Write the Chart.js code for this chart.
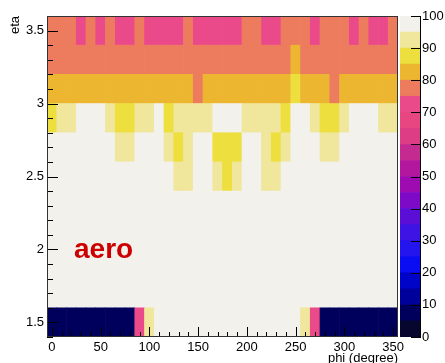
<!DOCTYPE html>
<html>
<head>
<meta charset="utf-8">
<script src="https://cdn.jsdelivr.net/npm/chart.js@4.4.1/dist/chart.umd.min.js"></script>
<style>
  html, body { margin: 0; padding: 0; background: #fff; overflow: hidden; width: 445px; height: 363px; }
  #main { position: absolute; left: 0; top: 0; width: 445px; height: 366px; }
  #zbar { position: absolute; left: 390px; top: 0; width: 55px; height: 363px; }
  #tag { position: absolute; left: 74px; top: 235px; font: bold 28px 'Liberation Sans', Arial, sans-serif;
         line-height: 28px; color: #cc0000; white-space: nowrap; }
</style>
</head>
<body>
<div id="main"><canvas id="c"></canvas></div>
<div id="zbar"><canvas id="z"></canvas></div>
<div id="tag">aero</div>
<script>
// Бины гистограммы: центры по phi (шаг 10°) и по eta (шаг 0.2)
const phiBins = [0, 10, 20, 30, 40, 50, 60, 70, 80, 90, 100, 110, 120, 130, 140, 150, 160, 170,
                 180, 190, 200, 210, 220, 230, 240, 250, 260, 270, 280, 290, 300, 310, 320, 330, 340, 350];
const etaBins = [1.5, 1.7, 1.9, 2.1, 2.3, 2.5, 2.7, 2.9, 3.1, 3.3, 3.5];

// Значения (в %) по строкам eta, слева направо по phi
const row15 = [7, 7, 7, 7, 7, 7, 7, 7, 7, 72, 92, 98, 98, 98, 98, 98, 98, 98,
               98, 98, 98, 98, 98, 98, 98, 98, 92, 72, 7, 7, 7, 7, 7, 7, 7, 7];
const row17 = [98, 98, 98, 98, 98, 98, 98, 98, 98, 98, 98, 98, 98, 98, 98, 98, 98, 98,
               98, 98, 98, 98, 98, 98, 98, 98, 98, 98, 98, 98, 98, 98, 98, 98, 98, 98];
const row19 = [98, 98, 98, 98, 98, 98, 98, 98, 98, 98, 98, 98, 98, 98, 98, 98, 98, 98,
               98, 98, 98, 98, 98, 98, 98, 98, 98, 98, 98, 98, 98, 98, 98, 98, 98, 98];
const row21 = [98, 98, 98, 98, 98, 98, 98, 98, 98, 98, 98, 98, 98, 98, 98, 98, 98, 98,
               98, 98, 98, 98, 98, 98, 98, 98, 98, 98, 98, 98, 98, 98, 98, 98, 98, 98];
const row23 = [98, 98, 98, 98, 98, 98, 98, 98, 98, 98, 98, 98, 98, 98, 98, 98, 98, 98,
               98, 98, 98, 98, 98, 98, 98, 98, 98, 98, 98, 98, 98, 98, 98, 98, 98, 98];
const row25 = [98, 98, 98, 98, 98, 98, 98, 98, 98, 98, 98, 98, 98, 92, 92, 98, 98, 92,
               87, 92, 98, 98, 92, 92, 98, 98, 98, 98, 98, 98, 98, 98, 98, 98, 98, 98];
const row27 = [98, 98, 98, 98, 98, 98, 98, 92, 92, 98, 98, 98, 92, 87, 92, 98, 98, 87,
               87, 87, 98, 98, 92, 87, 92, 98, 98, 98, 92, 92, 98, 98, 98, 98, 98, 98];
const row29 = [87, 92, 92, 98, 98, 98, 92, 87, 87, 92, 92, 98, 87, 92, 92, 92, 92, 98,
               98, 98, 92, 92, 92, 92, 87, 98, 98, 92, 87, 87, 92, 98, 98, 98, 92, 92];
const row31 = [82, 82, 82, 82, 82, 82, 82, 82, 82, 82, 82, 82, 82, 82, 82, 77, 82, 82,
               82, 82, 82, 82, 82, 82, 82, 87, 82, 82, 82, 77, 82, 82, 82, 82, 82, 82];
const row33 = [77, 77, 77, 77, 77, 77, 77, 77, 77, 77, 77, 77, 77, 77, 77, 77, 77, 77,
               77, 77, 77, 77, 77, 77, 77, 82, 77, 77, 77, 77, 77, 77, 77, 77, 77, 77];
const row35 = [77, 77, 77, 72, 77, 72, 77, 72, 72, 77, 72, 72, 72, 72, 77, 72, 72, 72,
               72, 72, 77, 77, 72, 72, 77, 77, 77, 72, 77, 77, 77, 72, 77, 72, 72, 77];
const rows = [row15, row17, row19, row21, row23, row25, row27, row29, row31, row33, row35];

// Подписи осей и шкалы цвета
const phiTicks = [0, 50, 100, 150, 200, 250, 300, 350];
const etaTicks = [1.5, 2, 2.5, 3, 3.5];
const zTicks = [0, 10, 20, 30, 40, 50, 60, 70, 80, 90, 100];
const zLevels = [0, 5, 10, 15, 20, 25, 30, 35, 40, 45, 50, 55, 60, 65, 70, 75, 80, 85, 90, 95];

// Палитра ROOT: по цвету на каждый интервал в 5%
const palette = [
    '#06062e', '#00005c', '#00009a', '#0004c8', '#0a0cf2', '#2414ee', '#3e14e4', '#5b0ed6',
    '#7c0ac6', '#9e0bb0', '#b3179e', '#c52a90', '#dc3d85', '#e74680', '#eb4a8a', '#ec7c5d',
    '#ecb630', '#ecdf3e', '#f0e69c', '#f2f1eb',
];

const FONT = "'Liberation Sans', Arial, Helvetica, sans-serif";
Chart.defaults.font.family = FONT;
Chart.defaults.font.size = 13;
Chart.defaults.color = '#000';

function colorFor(v) {
    const idx = Math.min(palette.length - 1, Math.max(0, Math.floor(v / 5)));
    return palette[idx];
}

function range(from, to, step) {
    const out = [];
    for (let v = from; v <= to + 1e-9; v += step) out.push(Math.round(v * 1000) / 1000);
    return out;
}

// Засечки внутрь области графика, как в ROOT, плюс рамка
const innerTicks = {
    id: 'innerTicks',
    afterDraw(chart, args, opts) {
        const ctx = chart.ctx;
        const a = chart.chartArea;
        ctx.save();
        ctx.lineWidth = 1;
        ctx.strokeStyle = '#000';
        const line = (x1, y1, x2, y2) => {
            ctx.beginPath(); ctx.moveTo(x1, y1); ctx.lineTo(x2, y2); ctx.stroke();
        };
        (opts.x || []).forEach(([vals, len]) => vals.forEach((v) => {
            const px = Math.round(chart.scales.x.getPixelForValue(v)) + 0.5;
            line(px, a.bottom, px, a.bottom - len);
        }));
        (opts.left || []).forEach(([vals, len]) => vals.forEach((v) => {
            const py = Math.round(chart.scales.y.getPixelForValue(v)) + 0.5;
            line(a.left, py, a.left + len, py);
        }));
        (opts.right || []).forEach(([vals, len]) => vals.forEach((v) => {
            const py = Math.round(chart.scales.y.getPixelForValue(v)) + 0.5;
            line(a.right, py, a.right - len, py);
        }));
        if (opts.frame) {
            ctx.strokeStyle = opts.frame;
            ctx.strokeRect(Math.round(a.left) + 0.5, Math.round(a.top) + 0.5,
                Math.round(a.right - a.left) - 1, Math.round(a.bottom - a.top) - 1);
        }
        ctx.restore();
    },
};

const datasets = etaBins.map((eta, r) => ({
    data: phiBins.map((phi) => ({ x: phi, y: [eta - 0.1, eta + 0.1] })),
    backgroundColor: rows[r].map(colorFor),
    borderWidth: 0,
    barPercentage: 1,
    categoryPercentage: 1,
    grouped: false,
}));

new Chart(document.getElementById('c'), {
    type: 'bar',
    data: { datasets },
    plugins: [innerTicks],
    options: {
        responsive: true,
        maintainAspectRatio: false,
        animation: false,
        layout: { padding: { top: 16, right: 47, bottom: 0, left: 0 } },
        plugins: {
            legend: { display: false },
            tooltip: { enabled: false },
            innerTicks: {
                x: [[range(0, 350, 10), 5], [phiTicks, 10]],
                left: [[range(1.4, 3.6, 0.1), 6], [etaTicks, 11]],
                frame: '#333',
            },
        },
        scales: {
            x: {
                type: 'linear',
                min: -5,
                max: 355,
                offset: false,
                grid: { display: false, drawTicks: false, offset: false },
                border: { display: false },
                afterBuildTicks: (s) => { s.ticks = phiTicks.map((value) => ({ value })); },
                afterFit: (s) => { s.height = 29; },
                ticks: { padding: 3, maxRotation: 0, autoSkip: false, callback: (v) => String(v) },
                title: { display: true, text: 'phi (degree)', align: 'end', padding: 0 },
            },
            y: {
                type: 'linear',
                min: 1.4,
                max: 3.6,
                grid: { display: false, drawTicks: false },
                border: { display: false },
                afterBuildTicks: (s) => { s.ticks = etaTicks.map((value) => ({ value })); },
                afterFit: (s) => { s.width = 47; },
                ticks: { padding: 3, autoSkip: false, callback: (v) => String(v) },
                title: { display: true, text: 'eta', align: 'end', padding: { top: 8, bottom: 0 } },
            },
        },
    },
});

// Цветовая шкала справа
new Chart(document.getElementById('z'), {
    type: 'bar',
    data: {
        labels: [''],
        datasets: zLevels.map((lo, i) => ({
            data: [5],
            backgroundColor: palette[i],
            borderWidth: 0,
            barPercentage: 1,
            categoryPercentage: 1,
            stack: 'z',
        })),
    },
    plugins: [innerTicks],
    options: {
        responsive: true,
        maintainAspectRatio: false,
        animation: false,
        layout: { padding: { top: 16, right: 0, bottom: 26, left: 10 } },
        plugins: {
            legend: { display: false },
            tooltip: { enabled: false },
            innerTicks: { right: [[zTicks, 9]] },
        },
        scales: {
            x: { display: false, stacked: true },
            y: {
                position: 'right',
                stacked: true,
                min: 0,
                max: 100,
                grid: { display: false, drawTicks: false },
                border: { display: true, color: '#000', width: 1 },
                afterBuildTicks: (s) => { s.ticks = zTicks.map((value) => ({ value })); },
                afterFit: (s) => { s.width = 25; },
                ticks: { padding: 2, autoSkip: false },
            },
        },
    },
});
</script>
</body>
</html>
